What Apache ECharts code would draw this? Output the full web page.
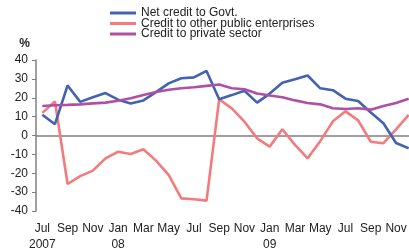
<!DOCTYPE html>
<html>
<head>
<meta charset="utf-8">
<script src="https://cdn.jsdelivr.net/npm/echarts@6/dist/echarts.min.js"></script>
<style>
  html, body { margin: 0; padding: 0; background: #fff; }
  #chart { width: 409px; height: 248px; }
</style>
</head>
<body>
<div id="chart"></div>
<script>
// months Jul 2007 .. Dec 2009
const months = [
  'Jul\n2007', 'Aug', 'Sep', 'Oct', 'Nov', 'Dec',
  'Jan\n08', 'Feb', 'Mar', 'Apr', 'May', 'Jun', 'Jul', 'Aug', 'Sep', 'Oct', 'Nov', 'Dec',
  'Jan\n09', 'Feb', 'Mar', 'Apr', 'May', 'Jun', 'Jul', 'Aug', 'Sep', 'Oct', 'Nov', 'Dec'
];

const govt = [
  11, 6, 26.5, 17.8, 20.3, 22.5,
  19, 17, 18.6, 23, 27.6, 30.3, 30.8, 34.2, 19.2, 21.4, 23.7, 17.4,
  22.2, 28, 29.8, 31.8, 25, 24, 19.5, 18.3, 12.2, 6.5, -4, -6.8
];

const publicEnt = [
  12, 18, -25.7, -21.5, -18.6, -12.1,
  -8.6, -9.8, -7.3, -13.3, -20.9, -33.3, -33.8, -34.5, 19.2, 14.4, 7.3, -1.5,
  -5.9, 3.3, -5, -12.1, -3, 7.5, 12.8, 8, -3.3, -4.1, 3.3, 10.9
];

const privateSec = [
  15.6, 16, 16.2, 16.5, 17, 17.4,
  18.4, 19.7, 21.5, 23, 24.2, 25, 25.6, 26.3, 27, 25, 24.5, 22.3,
  21.2, 20.3, 18.6, 17.2, 16.5, 14.4, 14, 14.4, 13.7, 15.6, 17.2, 19.5
];

const names = ['Net credit to Govt.', 'Credit to other public enterprises', 'Credit to private sector'];
const colors = ['#4362b0', '#f47b7b', '#b14fa6'];

const chart = echarts.init(document.getElementById('chart'));
const axisGray = '#808080';
const fontFamily = '"Liberation Sans", Arial, sans-serif';

chart.setOption({
  animation: false,
  textStyle: { fontFamily: fontFamily },
  color: colors,
  legend: {
    orient: 'vertical',
    left: 110,
    top: 7,
    padding: 0,
    icon: 'rect',
    itemWidth: 26,
    itemHeight: 3,
    itemGap: -1.5,
    textStyle: { fontSize: 12, color: '#222', lineHeight: 10.5, fontFamily: fontFamily },
    data: names
  },
  grid: { left: 36, right: -6, top: 60, bottom: 37, outerBoundsMode: 'none' },
  xAxis: [
    {
      type: 'category',
      data: months,
      boundaryGap: true,
      axisLine: { onZero: true, lineStyle: { color: axisGray, width: 1.5 } },
      axisTick: { interval: 0, length: 4, lineStyle: { color: axisGray } },
      axisLabel: { show: false }
    },
    {
      type: 'category',
      data: months,
      position: 'bottom',
      boundaryGap: true,
      axisLine: { show: false, onZero: false },
      axisTick: { show: false },
      axisLabel: {
        interval: 1,
        margin: 10,
        fontSize: 12,
        lineHeight: 16,
        color: '#222'
      }
    }
  ],
  yAxis: {
    type: 'value',
    min: -40,
    max: 40,
    interval: 10,
    name: '%',
    nameGap: 10,
    nameTextStyle: { fontWeight: 'bold', fontSize: 12, color: '#222', align: 'right', padding: [0, 6, 0, 0] },
    splitLine: { show: false },
    axisLine: { show: true, lineStyle: { color: axisGray, width: 1.5 } },
    axisTick: { show: true, length: 4, lineStyle: { color: axisGray } },
    axisLabel: { fontSize: 12, color: '#222', margin: 8 }
  },
  series: [
    {
      name: names[0], type: 'line', data: govt, symbol: 'none', z: 3,
      lineStyle: { width: 2.6 }
    },
    {
      name: names[1], type: 'line', data: publicEnt, symbol: 'none', z: 2,
      lineStyle: { width: 2.6 }
    },
    {
      name: names[2], type: 'line', data: privateSec, symbol: 'none', z: 4,
      lineStyle: { width: 2.6 }
    }
  ]
});

window.addEventListener('resize', () => chart.resize());
</script>
</body>
</html>
